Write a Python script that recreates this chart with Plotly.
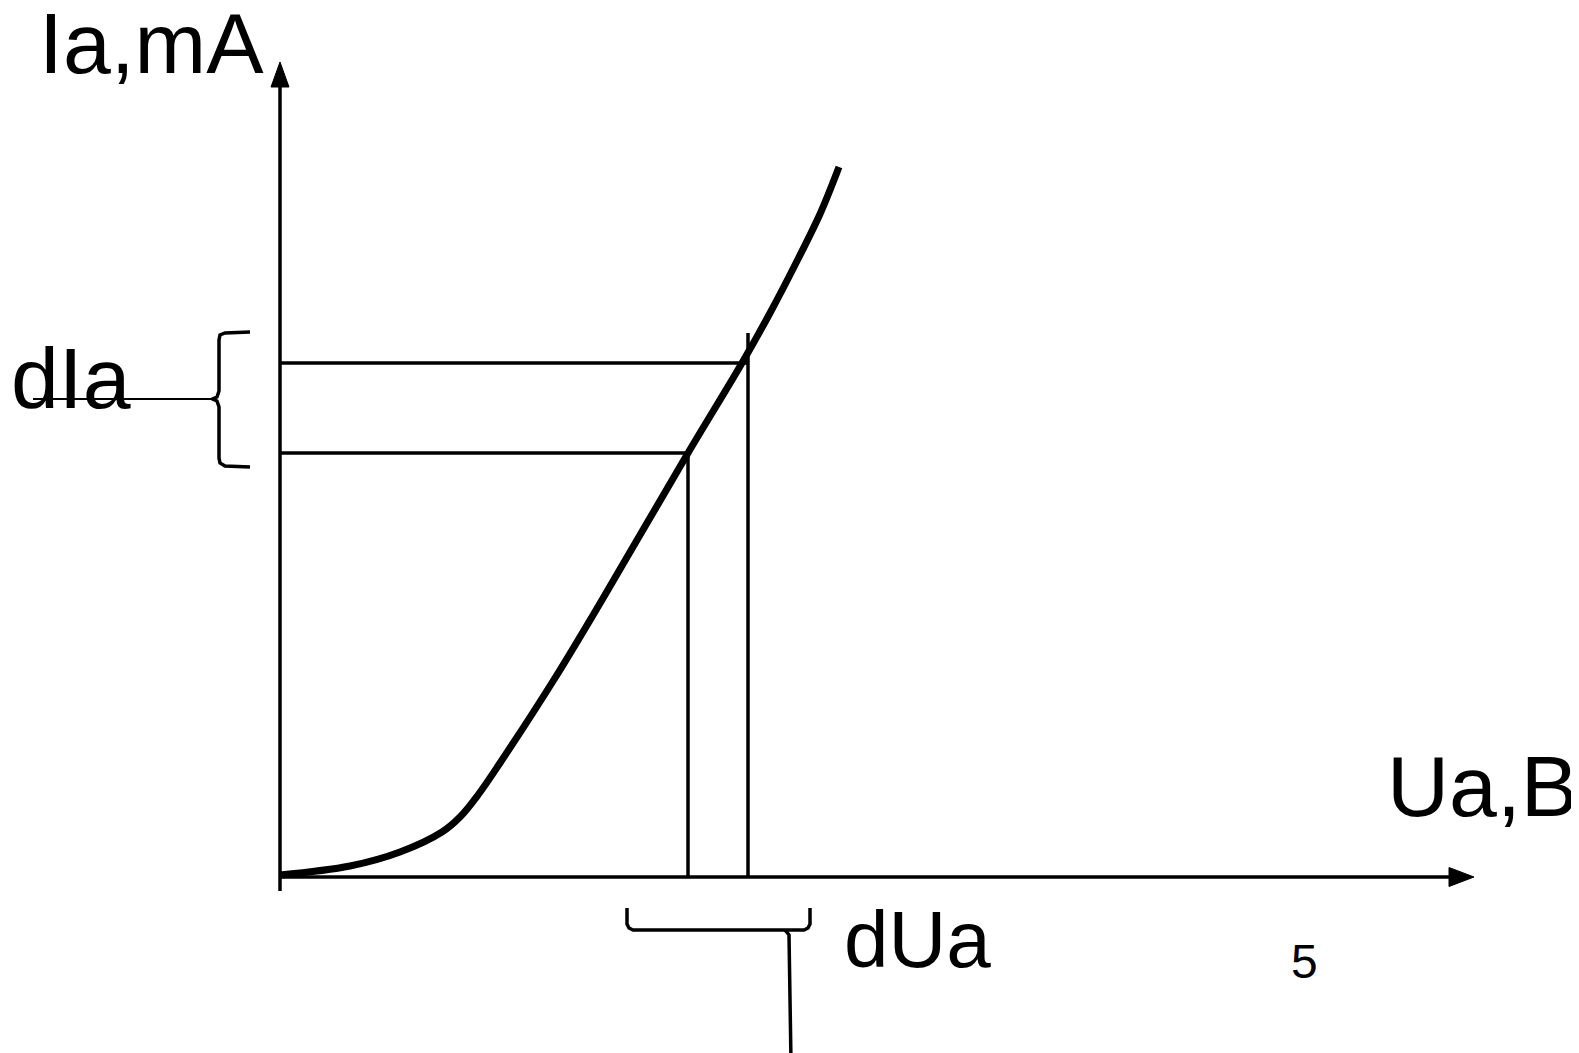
import plotly.graph_objects as go

# Characteristic curve Ia(Ua), arbitrary schematic units
ua_curve = [0.00, 0.70, 1.20, 1.62, 1.80, 1.98, 2.20, 2.75, 3.22, 4.08, 4.62, 4.90, 5.15, 5.40, 5.59]
ia_curve = [0.02, 0.11, 0.25, 0.45, 0.60, 0.82, 1.14, 1.99, 2.77, 4.24, 5.14, 5.64, 6.12, 6.63, 7.10]

# Two operating points used for the differential
ua_marks = [4.08, 4.68]
ia_marks = [4.24, 5.14]

# Labels
label_y = "Ia,mA"
label_x = "Ua,B"
label_dia = "dIa"
label_dua = "dUa"
label_num = "5"

# page body has an 8px margin, so the figure is 8px smaller and ranges start 8px in
X_RANGE = [-2.72, 12.99]
Y_RANGE = [-1.76, 8.69]
FONT = "Liberation Sans, Arial, sans-serif"
K = "black"

fig = go.Figure()

def line(xs, ys, w, shape="linear"):
    fig.add_trace(go.Scatter(x=xs, y=ys, mode="lines",
                             line=dict(color=K, width=w, shape=shape),
                             hoverinfo="skip", showlegend=False, cliponaxis=False))

# axes
x_end, y_end = 11.69, 7.90
line([0, x_end], [0, 0], 3.5)
line([0, 0], [-0.14, y_end], 3.5)
# arrow heads
fig.add_trace(go.Scatter(x=[x_end, x_end + 0.25, x_end, x_end], y=[0.095, 0, -0.095, 0.095],
                         mode="lines", fill="toself", fillcolor=K, line=dict(color=K, width=1),
                         hoverinfo="skip", showlegend=False))
fig.add_trace(go.Scatter(x=[-0.09, 0, 0.09, -0.09], y=[y_end, y_end + 0.25, y_end, y_end],
                         mode="lines", fill="toself", fillcolor=K, line=dict(color=K, width=1),
                         hoverinfo="skip", showlegend=False))

# guide lines
line([0, ua_marks[0]], [ia_marks[0], ia_marks[0]], 3.5)
line([0, ua_marks[1]], [ia_marks[1], ia_marks[1]], 3.5)
line([ua_marks[0], ua_marks[0]], [ia_marks[0], 0], 3.5)
line([ua_marks[1], ua_marks[1]], [ia_marks[1] + 0.30, 0], 3.5)

# curve
line(ua_curve, ia_curve, 7, shape="spline")

# dIa brace
line([-0.30, -0.55, -0.60, -0.61, -0.61, -0.63, -0.68, -0.63, -0.61, -0.61, -0.60, -0.55, -0.30],
     [5.45, 5.44, 5.42, 5.37, 4.86, 4.80, 4.78, 4.76, 4.70, 4.19, 4.14, 4.11, 4.10], 3.5)
line([-0.68, -2.47], [4.78, 4.78], 2)

# dUa brace
line([3.47, 3.47, 3.49, 3.53, 5.24, 5.28, 5.30, 5.30],
     [-0.31, -0.47, -0.51, -0.53, -0.53, -0.51, -0.47, -0.31], 3.5)
line([5.05, 5.09, 5.11], [-0.53, -0.58, -1.85], 3.5)

def label(txt, x, y, size):
    fig.add_annotation(text=txt, x=x, y=y, xref="x", yref="y", xanchor="left", yanchor="middle",
                       showarrow=False, font=dict(family=FONT, size=size, color=K))

label(label_y, -2.43, 8.34, 86)
label(label_dia, -2.71, 4.99, 86)
label(label_x, 11.05, 0.91, 86)
label(label_dua, 5.62, -0.62, 80)
label(label_num, 10.09, -0.84, 48)

fig.update_xaxes(range=X_RANGE, visible=False, fixedrange=True)
fig.update_yaxes(range=Y_RANGE, visible=False, fixedrange=True)
fig.update_layout(width=1571, height=1045, autosize=False,
                  margin=dict(l=0, r=0, t=0, b=0),
                  plot_bgcolor="white", paper_bgcolor="white")

fig.write_html("out.html", config={"displayModeBar": False})
